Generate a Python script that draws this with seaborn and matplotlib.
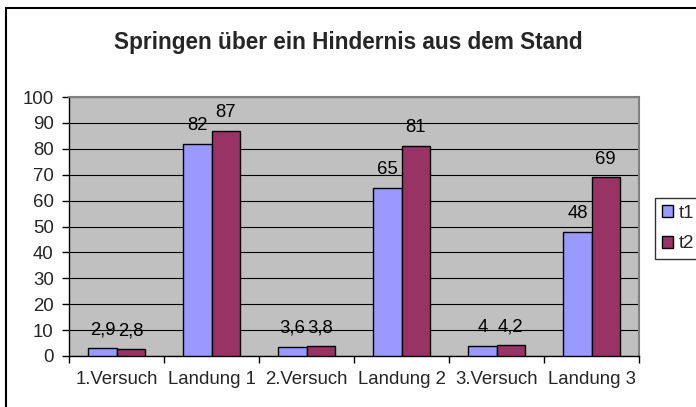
import pandas as pd
import numpy as np
import matplotlib
matplotlib.use('Agg')
import matplotlib.pyplot as plt
import seaborn as sns
from matplotlib.patches import Rectangle

# Data
categories = ['1.Versuch', 'Landung 1', '2.Versuch', 'Landung 2', '3.Versuch', 'Landung 3']
t1 = [2.9, 82, 3.6, 65, 4, 48]
t2 = [2.8, 87, 3.8, 81, 4.2, 69]
series = ['t1', 't2']
colors = ['#9999FF', '#993366']

df = pd.DataFrame({
    'Kategorie': categories * 2,
    'Wert': t1 + t2,
    'Serie': ['t1'] * len(t1) + ['t2'] * len(t2),
})

sns.set_style('white')
plt.rcParams['font.family'] = ['Liberation Sans', 'DejaVu Sans']

fig = plt.figure(figsize=(6.96, 4.07), dpi=100)
ax = fig.add_axes([69 / 696, 1 - 356 / 407, 570 / 696, 259 / 407])

sns.barplot(data=df, x='Kategorie', y='Wert', hue='Serie', hue_order=series,
            palette=colors, width=0.59, gap=0, edgecolor='black', linewidth=1,
            saturation=1, ax=ax, zorder=3)

# Data labels with German decimal comma
for cont in ax.containers:
    ax.bar_label(cont, labels=[('%g' % v).replace('.', ',') for v in cont.datavalues],
                 padding=7, fontsize=13.3, color='black')

ax.set_facecolor('#C0C0C0')
ax.set_ylim(0, 100)
ax.set_yticks(np.arange(0, 101, 10))
ax.set_xlim(-0.5, len(categories) - 0.5)
ax.yaxis.grid(True, color='black', linewidth=0.8, zorder=0)
ax.set_axisbelow(True)
ax.set_xlabel('')
ax.set_ylabel('')

# x ticks at group borders, labels in the middle
ax.set_xticks(np.arange(-0.5, len(categories) + 0.5, 1))
ax.set_xticklabels([])
ax.set_xticks(np.arange(len(categories)), minor=True)
ax.set_xticklabels(categories, minor=True, fontsize=13.4)
ax.tick_params(axis='x', which='major', direction='out', length=5, width=1, color='black', bottom=True)
ax.tick_params(axis='x', which='minor', length=0, pad=11)
ax.tick_params(axis='y', direction='out', length=5, width=1, color='black', left=True,
               labelsize=13.4, pad=6)

for side in ['left', 'bottom']:
    ax.spines[side].set_color('black')
    ax.spines[side].set_linewidth(1)
for side in ['top', 'right']:
    ax.spines[side].set_color('#808080')
    ax.spines[side].set_linewidth(1.5)

leg = ax.legend(loc='upper left', bbox_to_anchor=(655 / 696, 1 - 198 / 407),
                bbox_transform=fig.transFigure, frameon=True, fancybox=False,
                fontsize=13.4, handlelength=0.6, handleheight=0.6, handletextpad=0.3,
                borderpad=0.35, borderaxespad=0, labelspacing=0.75, title=None)
leg.get_frame().set_edgecolor('black')
leg.get_frame().set_linewidth(1)

fig.text(0.5, 1 - 42 / 407, 'Springen über ein Hindernis aus dem Stand',
         ha='center', va='center', fontsize=16.3, fontweight='bold')

# outer chart frame
fig.patches.append(Rectangle((6 / 696, -0.1), 1.2, 1 - 8 / 407 + 0.1, transform=fig.transFigure,
                             fill=False, edgecolor='black', linewidth=1.5))

fig.savefig('out.png', dpi=100)
